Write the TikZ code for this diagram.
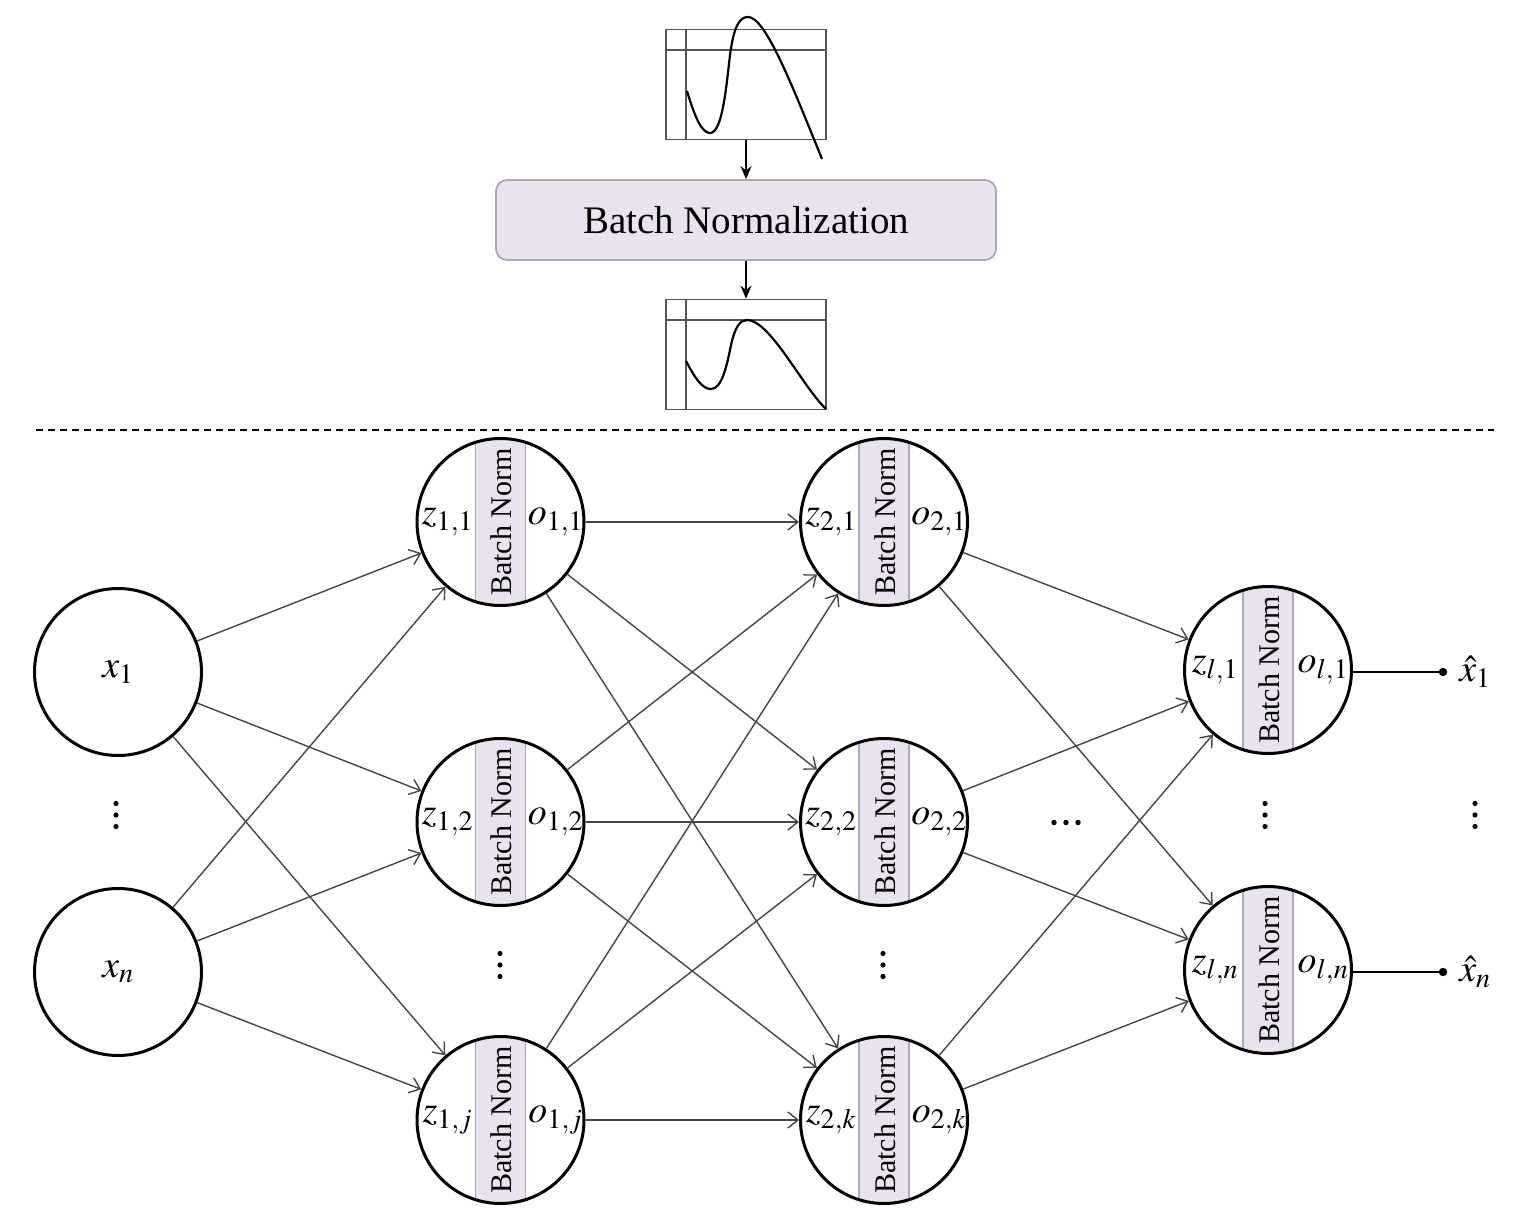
\documentclass[tikz,border=0pt]{standalone}
\usepackage{mathptmx}
\usepackage[no-math]{fontspec}
\setmainfont{Liberation Serif}
\usetikzlibrary{arrows.meta,calc}
\definecolor{bnfill}{HTML}{E8E3EF}
\definecolor{bnline}{HTML}{B0A6BC}
\definecolor{edgegray}{HTML}{454545}
\definecolor{plotgray}{HTML}{555555}
\tikzset{
  neuron/.style={circle,draw=black,line width=3pt,minimum size=167pt,inner sep=0pt,font=\fontsize{38}{42}\selectfont},
  edge/.style={draw=edgegray,line width=1.4pt,-{Straight Barb[length=10pt,width=16pt,line width=1.4pt]}},
  lab/.style={inner sep=0pt,font=\fontsize{38}{42}\selectfont},
  bnlab/.style={rotate=90,inner sep=0pt,font=\fontsize{30}{34}\selectfont},
  bnstrip/.style={fill=bnfill,draw=bnline,line width=1.5pt},
  plotbox/.style={draw=plotgray,line width=1.6pt,minimum width=160pt,minimum height=110pt,inner sep=0pt},
  curve/.style={draw=black,line width=2.2pt},
  bnbox/.style={rounded corners=11pt,fill=bnfill,draw=bnline,line width=1.8pt,minimum width=500pt,minimum height=80pt,font=\fontsize{39}{44}\selectfont},
  flow/.style={draw=black,line width=1.8pt,-{Stealth[length=13pt,width=11pt]}},
  outline/.style={draw=black,line width=2.2pt},
  dotmark/.style={fill=black}
}
\newcommand{\neuronat}[5]{%
  \begin{scope}
    \clip (#2,#3) circle (83.5);
    \fill[bnfill] (#2-25,#3-90) rectangle (#2+25,#3+90);
    \draw[bnline,line width=1.5pt] (#2-25,#3-90) -- (#2-25,#3+90) (#2+25,#3-90) -- (#2+25,#3+90);
  \end{scope}
  \node[neuron] (#1) at (#2,#3) {};
  \node[bnlab] at (#2+1,#3) {Batch Norm};
  \node[lab] at (#2-53,#3) {$#4$};
  \node[lab] at (#2+55,#3) {$#5$};
}
\newcommand{\vdotsat}[2]{%
  \fill[dotmark] (#1,#2-11.5) circle (2.6) (#1,#2) circle (2.6) (#1,#2+11.5) circle (2.6);
}
\begin{document}
\begin{tikzpicture}[x=1pt,y=-1pt]
\useasboundingbox (0,0) rectangle (1529,1222);

% top plot
\node[plotbox] (p1) at (746,84.5) {};
\draw[plotgray,line width=1.6pt] (686,30) -- (686,139) (666,50) -- (826,50);
\draw[curve] (687,91) .. controls (695,118) and (702,133) .. (710,133)
  .. controls (722,133) and (726,90) .. (730,55)
  .. controls (734,25) and (740,17) .. (748,17)
  .. controls (765,17) and (790,80) .. (822,159);

% batch normalization box
\node[bnbox] (bn) at (746,220) {Batch Normalization};

% bottom plot
\node[plotbox] (p2) at (746,354.5) {};
\draw[plotgray,line width=1.6pt] (686,300) -- (686,409) (666,320) -- (826,320);
\draw[curve] (686,361) .. controls (695,378) and (702,389) .. (711,389)
  .. controls (722,389) and (727,365) .. (731,345)
  .. controls (735,327) and (740,320) .. (747,320)
  .. controls (770,320) and (802,386) .. (826,409);

\draw[flow] (p1) -- (bn);
\draw[flow] (bn) -- (p2);

% separator
\draw[black,line width=2pt,dash pattern=on 7pt off 5pt] (36,430) -- (1494,430);

% input nodes
\node[neuron] (x1) at (118,672) {$x_1$};
\node[neuron] (xn) at (118,972) {$x_n$};
\vdotsat{116}{815}

% layer 1
\neuronat{a1}{500.5}{522}{z_{1,1}}{o_{1,1}}
\neuronat{a2}{500.5}{822}{z_{1,2}}{o_{1,2}}
\neuronat{a3}{500.5}{1120}{z_{1,j}}{o_{1,j}}
\vdotsat{500}{965}

% layer 2
\neuronat{b1}{884}{522}{z_{2,1}}{o_{2,1}}
\neuronat{b2}{884}{822}{z_{2,2}}{o_{2,2}}
\neuronat{b3}{884}{1120}{z_{2,k}}{o_{2,k}}
\vdotsat{883}{965}

% horizontal dots
\fill[dotmark] (1054,822.5) circle (2.7) (1066,822.5) circle (2.7) (1078,822.5) circle (2.7);

% layer l
\neuronat{c1}{1268}{670}{z_{l,1}}{o_{l,1}}
\neuronat{c2}{1268}{970}{z_{l,n}}{o_{l,n}}
\vdotsat{1265}{815}

% edges input -> layer 1
\foreach \s in {x1,xn}{
  \foreach \t in {a1,a2,a3}{
    \draw[edge] (\s) -- (\t);
  }
}
% layer 1 -> layer 2
\foreach \s in {a1,a2,a3}{
  \foreach \t in {b1,b2,b3}{
    \draw[edge] (\s) -- (\t);
  }
}
% layer 2 -> layer l
\foreach \s in {b1,b2,b3}{
  \foreach \t in {c1,c2}{
    \draw[edge] (\s) -- (\t);
  }
}

% outputs
\coordinate (d1) at (1443,672);
\coordinate (d2) at (1443,972);
\draw[outline] (c1.east |- d1) -- (d1);
\draw[outline] (c2.east |- d2) -- (d2);
\fill[dotmark] (d1) circle (4.2) (d2) circle (4.2);
\node[lab] (y1) at (1475,672) {$\hat{x}_1$};
\node[lab] (yn) at (1475,972) {$\hat{x}_n$};
\vdotsat{1475}{815}

\end{tikzpicture}
\end{document}
